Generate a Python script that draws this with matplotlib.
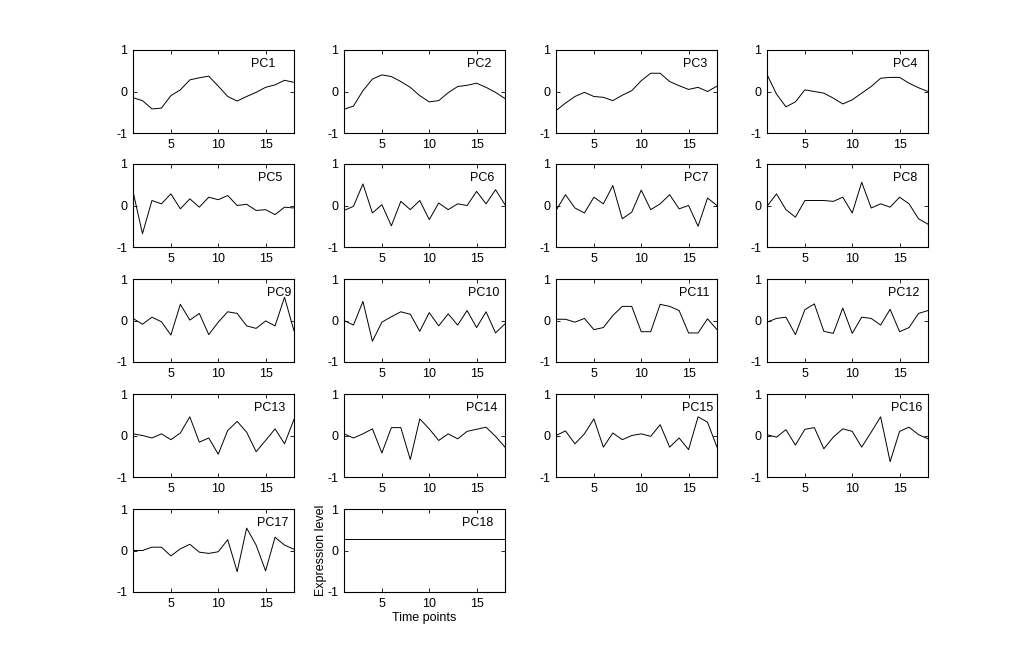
import matplotlib
matplotlib.use("Agg")
import matplotlib.pyplot as plt

plt.rcParams['font.family'] = ['Liberation Sans', 'DejaVu Sans']
plt.rcParams['font.size'] = 9

time_points = list(range(1, 19))

pc1 = [-0.15, -0.22, -0.42, -0.40, -0.10, 0.04, 0.28, 0.33, 0.37, 0.13, -0.12, -0.23, -0.12, -0.02, 0.10, 0.16, 0.27, 0.22]
pc2 = [-0.43, -0.35, 0.02, 0.30, 0.40, 0.36, 0.24, 0.10, -0.10, -0.25, -0.22, -0.03, 0.12, 0.15, 0.20, 0.10, -0.02, -0.17]
pc3 = [-0.46, -0.28, -0.12, -0.02, -0.12, -0.14, -0.22, -0.09, 0.02, 0.26, 0.44, 0.44, 0.24, 0.14, 0.05, 0.10, 0.00, 0.13]
pc4 = [0.41, -0.06, -0.37, -0.25, 0.04, 0.00, -0.04, -0.16, -0.30, -0.20, -0.04, 0.12, 0.32, 0.34, 0.34, 0.20, 0.09, 0.00]
pc5 = [0.34, -0.68, 0.12, 0.04, 0.28, -0.08, 0.16, -0.04, 0.20, 0.14, 0.24, 0.00, 0.03, -0.12, -0.10, -0.22, -0.04, -0.06]
pc6 = [-0.12, -0.02, 0.52, -0.18, 0.02, -0.49, 0.10, -0.10, 0.12, -0.34, 0.06, -0.10, 0.04, 0.00, 0.34, 0.04, 0.38, 0.02]
pc7 = [-0.12, 0.26, -0.06, -0.18, 0.20, 0.04, 0.48, -0.32, -0.16, 0.37, -0.10, 0.04, 0.26, -0.08, 0.00, -0.50, 0.18, 0.00]
pc8 = [-0.02, 0.28, -0.10, -0.28, 0.12, 0.12, 0.12, 0.10, 0.20, -0.18, 0.56, -0.06, 0.04, -0.04, 0.20, 0.04, -0.32, -0.45]
pc9 = [0.05, -0.09, 0.08, -0.03, -0.35, 0.39, 0.01, 0.17, -0.34, -0.04, 0.21, 0.17, -0.13, -0.19, -0.01, -0.13, 0.56, -0.25]
pc10 = [0.00, -0.11, 0.46, -0.50, -0.04, 0.09, 0.21, 0.15, -0.26, 0.19, -0.13, 0.16, -0.11, 0.24, -0.17, 0.21, -0.30, -0.08]
pc11 = [0.03, 0.03, -0.04, 0.05, -0.22, -0.17, 0.12, 0.34, 0.34, -0.27, -0.27, 0.39, 0.34, 0.24, -0.30, -0.30, 0.04, -0.22]
pc12 = [-0.04, 0.05, 0.08, -0.34, 0.26, 0.40, -0.26, -0.31, 0.30, -0.31, 0.08, 0.05, -0.11, 0.27, -0.27, -0.17, 0.17, 0.24]
pc13 = [0.04, 0.00, -0.06, 0.04, -0.10, 0.06, 0.45, -0.16, -0.06, -0.45, 0.12, 0.34, 0.08, -0.39, -0.12, 0.16, -0.20, 0.39]
pc14 = [0.04, -0.06, 0.04, 0.16, -0.42, 0.19, 0.19, -0.58, 0.40, 0.16, -0.12, 0.04, -0.08, 0.10, 0.15, 0.20, -0.02, -0.28]
pc15 = [0.00, 0.11, -0.20, 0.04, 0.40, -0.28, 0.06, -0.10, 0.00, 0.04, -0.02, 0.26, -0.28, -0.06, -0.34, 0.45, 0.32, -0.28]
pc16 = [0.02, -0.04, 0.14, -0.23, 0.15, 0.19, -0.32, -0.04, 0.16, 0.10, -0.28, 0.08, 0.45, -0.63, 0.10, 0.20, 0.02, -0.08]
pc17 = [0.00, 0.00, 0.08, 0.08, -0.13, 0.04, 0.15, -0.04, -0.07, -0.03, 0.26, -0.51, 0.54, 0.13, -0.49, 0.32, 0.13, 0.03]
pc18 = [0.27] * 18

series = [pc1, pc2, pc3, pc4, pc5, pc6, pc7, pc8, pc9, pc10,
          pc11, pc12, pc13, pc14, pc15, pc16, pc17, pc18]
labels = ["PC%d" % (i + 1) for i in range(18)]
label_x = [13.46, 13.99, 14.41, 14.30, 14.2, 14.3, 14.5, 14.3, 15.15, 14.1,
           14.0, 13.8, 13.8, 13.9, 14.3, 14.1, 14.1, 13.5]
xticks = [5, 10, 15]
yticks = [-1, 0, 1]

W, H = 1024, 664
fig = plt.figure(figsize=(W / 100, H / 100), dpi=100)

col_left = [133, 344, 556, 767]
row_top = [50, 164, 279, 394, 509]
ax_w, ax_h = 161, 83

for i, (vals, lab) in enumerate(zip(series, labels)):
    r, c = divmod(i, 4)
    left = col_left[c] / W
    bottom = 1 - (row_top[r] + ax_h) / H
    ax = fig.add_axes([left, bottom, ax_w / W, ax_h / H])
    ax.plot(time_points, vals, color='black', lw=0.7)
    ax.set_xlim(1, 18)
    ax.set_ylim(-1, 1)
    ax.set_xticks(xticks)
    ax.set_yticks(yticks)
    ax.set_yticklabels(["-1", "0", "1"])
    ax.tick_params(direction='in', length=3, width=0.6, top=True, right=True,
                   labelsize=9, pad=4)
    for s in ax.spines.values():
        s.set_linewidth(0.8)
    ax.text(label_x[i], 0.66, lab, ha='left', va='center', fontsize=9)
    if i == 17:
        ax.set_xlabel("Time points", fontsize=9, labelpad=2)
        ax.set_ylabel("Expression level", fontsize=9, labelpad=0)

fig.savefig("out.png", dpi=100)
